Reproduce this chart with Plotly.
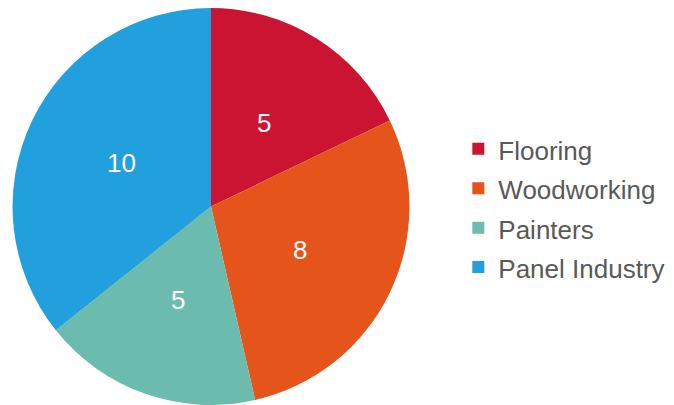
import math
import plotly.graph_objects as go

# Segments and their counts
categories = ["Flooring", "Woodworking", "Painters", "Panel Industry"]
counts = [5, 8, 5, 10]
colors = ["#CB1432", "#E5541B", "#6BBBAF", "#229FDD"]

FONT = "Liberation Sans, Arial, sans-serif"
W, H = 674, 405
dom_x = [0.0178, 0.6083]
dom_y = [0.0, 0.98]

# Legend rows get a taller line box than the glyphs themselves
legend_labels = [f"<span style='font-size:26px'>{c}</span>" for c in categories]

fig = go.Figure(
    go.Pie(
        labels=legend_labels,
        values=counts,
        sort=False,
        direction="clockwise",
        rotation=0,
        marker=dict(colors=colors, line=dict(width=0)),
        textinfo="none",
        domain=dict(x=dom_x, y=dom_y),
        customdata=categories,
        hovertemplate="%{customdata}: %{value}<extra></extra>",
    )
)

# Value labels placed halfway out along each slice's mid-angle
cx = (dom_x[0] + dom_x[1]) / 2
cy = (dom_y[0] + dom_y[1]) / 2
radius_px = min((dom_x[1] - dom_x[0]) * W, (dom_y[1] - dom_y[0]) * H) / 2
rho = 0.5 * radius_px
total = sum(counts)
cum = 0
for v in counts:
    mid = (cum + v / 2) / total * 2 * math.pi
    cum += v
    fig.add_annotation(
        x=cx + rho * math.sin(mid) / W,
        y=cy + rho * math.cos(mid) / H,
        xref="paper",
        yref="paper",
        text=str(v),
        showarrow=False,
        font=dict(color="white", size=26, family=FONT),
        xanchor="center",
        yanchor="middle",
    )

fig.update_layout(
    width=W,
    height=H,
    margin=dict(l=0, r=0, t=0, b=0),
    paper_bgcolor="white",
    plot_bgcolor="white",
    showlegend=True,
    legend=dict(
        x=0.68,
        y=0.486,
        xanchor="left",
        yanchor="middle",
        font=dict(size=28, color="#595959", family=FONT),
        itemwidth=30,
        bgcolor="rgba(0,0,0,0)",
    ),
)

fig.write_html("out.html")
